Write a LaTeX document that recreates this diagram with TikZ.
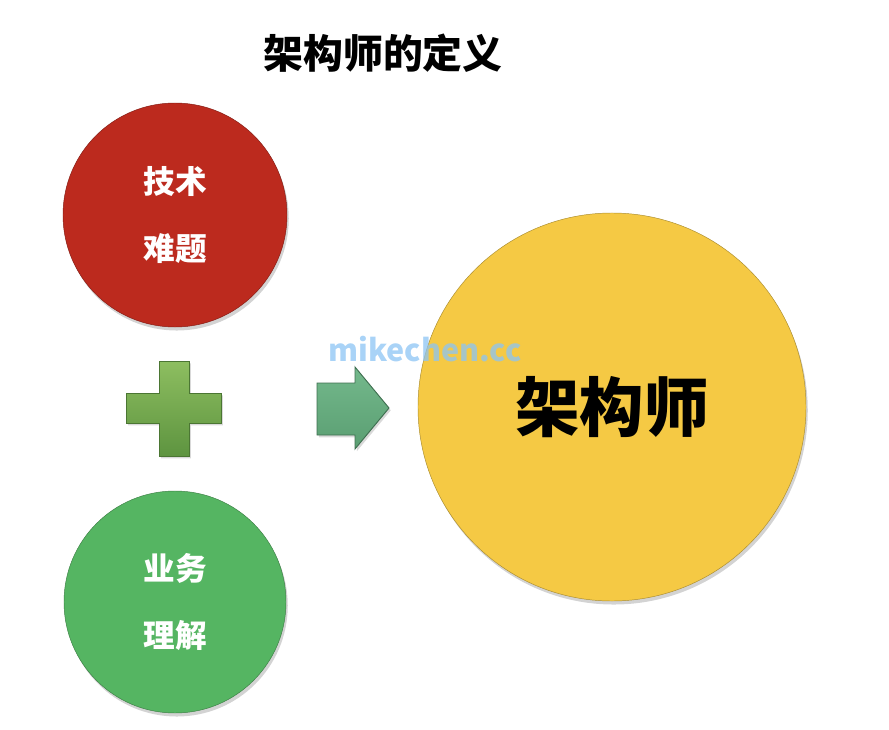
\documentclass[tikz,border=0pt]{standalone}
\usepackage{fontspec}
\newfontfamily\cjk{Noto Sans CJK SC}
\usepackage{tikz}
\usetikzlibrary{shadows}
\definecolor{techred}{HTML}{BC2A1E}
\definecolor{bizgreen}{HTML}{55B562}
\definecolor{archyellow}{HTML}{F5C944}
\definecolor{plustop}{HTML}{8DBE60}
\definecolor{plusbot}{HTML}{5E9440}
\definecolor{arrowtop}{HTML}{74B98C}
\definecolor{arrowbot}{HTML}{5A9E72}
\definecolor{markblue}{HTML}{8CC4F4}
\tikzset{
  ball/.style={circle,inner sep=0,align=center,text=white,
    drop shadow={opacity=.35,shadow xshift=1.5pt,shadow yshift=-3pt}},
  sign/.style={line width=.8pt,drop shadow={opacity=.3,shadow xshift=1.5pt,shadow yshift=-2pt}}
}
\begin{document}
\begin{tikzpicture}[x=0.03cm,y=-0.03cm,font=\cjk\bfseries]
\useasboundingbox (0,0) rectangle (889,730); %frame

\node[font=\cjk\bfseries\fontsize{34}{34}\selectfont] (title) at (383,53) {架构师的定义}; %title

%left column
\node[ball,fill=techred,draw=techred!70!black,minimum size=6.72cm,font=\cjk\bfseries\fontsize{27}{57}\selectfont] (tech) at (175,215) {技术\\难题}; %red ball
\node[ball,fill=bizgreen,draw=bizgreen!70!black,minimum size=6.66cm,font=\cjk\bfseries\fontsize{27}{57}\selectfont] (biz) at (175,602) {业务\\理解}; %green ball

%plus sign
\draw[sign,draw=plusbot!80!black,top color=plustop,bottom color=plusbot]
  (159,361)--(189,361)--(189,393)--(221,393)--(221,423)--(189,423)--(189,456)
  --(159,456)--(159,423)--(126,423)--(126,393)--(159,393)--cycle; %plus

%arrow
\draw[sign,draw=arrowbot!70!black,top color=arrowtop,bottom color=arrowbot]
  (317,383)--(355,383)--(355,367)--(389,408)--(355,449)--(355,435)--(317,435)--cycle; %arrow

%right ball
\node[ball,fill=archyellow,draw=archyellow!70!black,text=black,minimum size=11.64cm,font=\cjk\bfseries\fontsize{55}{55}\selectfont] (arch) at (612,407) {架构师}; %yellow ball

\node[text=markblue,opacity=.75,font=\cjk\bfseries\fontsize{26}{26}\selectfont] (mark) at (425,349) {mikechen.cc}; %watermark
\end{tikzpicture}
\end{document}
